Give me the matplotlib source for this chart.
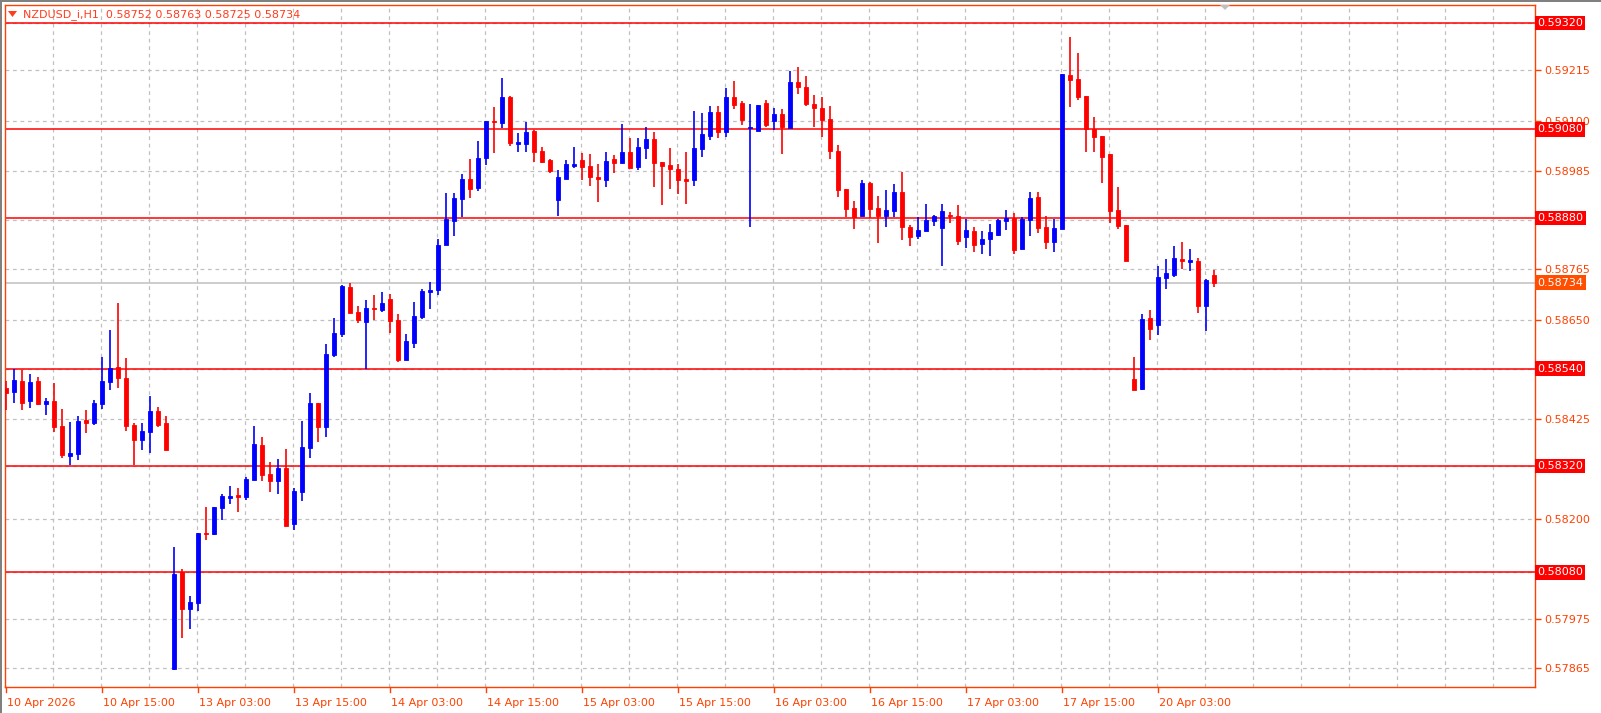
import matplotlib
matplotlib.use("Agg")
import matplotlib.pyplot as plt
import matplotlib.transforms as mtransforms
from matplotlib.patches import Rectangle, Polygon

opens = [0.58496,0.58487,0.58512,0.58467,0.58512,0.58460,0.58467,0.58410,0.58342,0.58347,
0.58424,0.58417,0.58460,0.58510,0.58543,0.58519,0.58413,0.58379,0.58397,0.58444,
0.58417,0.57862,0.58081,0.57997,0.58011,0.58169,0.58166,0.58225,0.58248,0.58254,
0.58250,0.58288,0.58367,0.58302,0.58286,0.58315,0.58189,0.58261,0.58360,0.58462,
0.58408,0.58571,0.58618,0.58724,0.58667,0.58645,0.58677,0.58672,0.58697,0.58649,
0.58559,0.58597,0.58656,0.58713,0.58717,0.58819,0.58873,0.58922,0.58968,0.58947,
0.59015,0.59099,0.59094,0.59153,0.59047,0.59047,0.59076,0.59031,0.59011,0.58920,
0.58968,0.58997,0.59011,0.58997,0.58972,0.58965,0.59013,0.59004,0.59029,0.58995,
0.59038,0.59058,0.59006,0.58999,0.58990,0.58968,0.58965,0.59035,0.59065,0.59119,
0.59074,0.59153,0.59139,0.59084,0.59076,0.59139,0.59099,0.59114,0.59083,0.59187,
0.59175,0.59137,0.59128,0.59103,0.59031,0.58945,0.58902,0.58884,0.58959,0.58902,
0.58884,0.58895,0.58938,0.58859,0.58839,0.58850,0.58873,0.58857,0.58887,0.58884,
0.58837,0.58850,0.58821,0.58832,0.58841,0.58873,0.58880,0.58810,0.58875,0.58927,
0.58859,0.58825,0.58855,0.59202,0.59193,0.59155,0.59080,0.59065,0.59024,0.58898,
0.58864,0.58516,0.58494,0.58654,0.58638,0.58744,0.58751,0.58787,0.58780,0.58783,
0.58681,0.58752]
highs = [0.58512,0.58539,0.58537,0.58528,0.58521,0.58473,0.58507,0.58449,0.58419,0.58433,
0.58446,0.58469,0.58566,0.58627,0.58688,0.58564,0.58417,0.58417,0.58478,0.58453,
0.58433,0.58137,0.58087,0.58027,0.58169,0.58227,0.58227,0.58257,0.58275,0.58270,
0.58295,0.58410,0.58386,0.58329,0.58336,0.58358,0.58270,0.58422,0.58485,0.58462,
0.58595,0.58654,0.58728,0.58733,0.58681,0.58695,0.58706,0.58713,0.58708,0.58663,
0.58618,0.58690,0.58719,0.58735,0.58832,0.58936,0.58936,0.58979,0.59013,0.59053,
0.59099,0.59130,0.59196,0.59155,0.59071,0.59096,0.59078,0.59040,0.59013,0.58988,
0.59011,0.59040,0.59026,0.59024,0.59002,0.59029,0.59022,0.59092,0.59060,0.59060,
0.59085,0.59074,0.59006,0.59038,0.59002,0.59029,0.59121,0.59117,0.59132,0.59132,
0.59173,0.59189,0.59144,0.59137,0.59135,0.59146,0.59128,0.59126,0.59211,0.59220,
0.59200,0.59157,0.59153,0.59132,0.59044,0.58945,0.58918,0.58965,0.58961,0.58929,
0.58943,0.58956,0.58983,0.58864,0.58882,0.58911,0.58887,0.58911,0.58893,0.58909,
0.58877,0.58859,0.58850,0.58866,0.58877,0.58898,0.58891,0.58882,0.58938,0.58938,
0.58884,0.58877,0.59204,0.59288,0.59252,0.59155,0.59108,0.59065,0.59024,0.58950,
0.58864,0.58566,0.58663,0.58672,0.58771,0.58787,0.58817,0.58826,0.58810,0.58789,
0.58742,0.58763]
lows = [0.58446,0.58462,0.58446,0.58451,0.58458,0.58435,0.58397,0.58338,0.58322,0.58333,
0.58394,0.58413,0.58449,0.58491,0.58496,0.58399,0.58322,0.58356,0.58349,0.58408,
0.58356,0.57859,0.57932,0.57952,0.57993,0.58153,0.58164,0.58198,0.58234,0.58216,
0.58243,0.58288,0.58286,0.58261,0.58257,0.58184,0.58175,0.58241,0.58338,0.58374,
0.58386,0.58566,0.58611,0.58665,0.58643,0.58540,0.58649,0.58668,0.58620,0.58555,
0.58559,0.58586,0.58652,0.58674,0.58706,0.58819,0.58839,0.58882,0.58925,0.58941,
0.58999,0.59026,0.59083,0.59042,0.59029,0.59029,0.59006,0.59004,0.58981,0.58884,
0.58968,0.58992,0.58965,0.58952,0.58916,0.58950,0.58981,0.59004,0.58992,0.58988,
0.59013,0.58950,0.58909,0.58945,0.58934,0.58911,0.58952,0.59017,0.59056,0.59060,
0.59062,0.59126,0.59090,0.58859,0.59076,0.59085,0.59078,0.59024,0.59083,0.59160,
0.59132,0.59085,0.59062,0.59013,0.58927,0.58882,0.58855,0.58884,0.58880,0.58823,
0.58859,0.58882,0.58830,0.58816,0.58832,0.58850,0.58862,0.58771,0.58868,0.58819,
0.58812,0.58803,0.58799,0.58794,0.58839,0.58853,0.58799,0.58810,0.58839,0.58846,
0.58810,0.58803,0.58855,0.59130,0.59146,0.59029,0.59029,0.58959,0.58868,0.58855,
0.58783,0.58491,0.58491,0.58604,0.58616,0.58719,0.58747,0.58765,0.58760,0.58665,
0.58625,0.58725]
closes = [0.58485,0.58514,0.58462,0.58510,0.58460,0.58467,0.58408,0.58345,0.58349,0.58422,
0.58417,0.58462,0.58512,0.58541,0.58519,0.58410,0.58379,0.58399,0.58444,0.58413,
0.58356,0.58076,0.57997,0.58013,0.58169,0.58166,0.58227,0.58252,0.58252,0.58250,
0.58291,0.58370,0.58300,0.58286,0.58315,0.58184,0.58263,0.58363,0.58462,0.58408,
0.58573,0.58620,0.58726,0.58665,0.58649,0.58677,0.58674,0.58688,0.58647,0.58559,
0.58602,0.58658,0.58715,0.58717,0.58819,0.58877,0.58925,0.58968,0.58945,0.59015,
0.59099,0.59096,0.59153,0.59049,0.59051,0.59074,0.59029,0.59006,0.58986,0.58972,
0.59002,0.59002,0.58995,0.58972,0.58968,0.59008,0.59004,0.59029,0.58992,0.59040,
0.59058,0.59004,0.58997,0.58990,0.58965,0.58963,0.59038,0.59069,0.59119,0.59074,
0.59153,0.59135,0.59101,0.59085,0.59135,0.59090,0.59114,0.59085,0.59187,0.59175,
0.59137,0.59128,0.59101,0.59031,0.58943,0.58900,0.58882,0.58959,0.58900,0.58884,
0.58898,0.58938,0.58859,0.58837,0.58853,0.58875,0.58884,0.58895,0.58884,0.58828,
0.58853,0.58819,0.58832,0.58848,0.58875,0.58880,0.58807,0.58877,0.58925,0.58857,
0.58825,0.58857,0.59204,0.59191,0.59153,0.59080,0.59062,0.59017,0.58895,0.58862,
0.58783,0.58491,0.58652,0.58629,0.58747,0.58756,0.58789,0.58783,0.58785,0.58681,
0.58740,0.58734]

time_labels = ["10 Apr 2026", "10 Apr 15:00", "13 Apr 03:00", "13 Apr 15:00", "14 Apr 03:00",
               "14 Apr 15:00", "15 Apr 03:00", "15 Apr 15:00", "16 Apr 03:00", "16 Apr 15:00",
               "17 Apr 03:00", "17 Apr 15:00", "20 Apr 03:00"]
time_label_idx = [0, 12, 24, 36, 48, 60, 72, 84, 96, 108, 120, 132, 144]
price_ticks = [0.59320, 0.59215, 0.59100, 0.58985, 0.58875, 0.58765, 0.58650, 0.58540,
               0.58425, 0.58320, 0.58200, 0.58080, 0.57975, 0.57865]
price_tick_labels = ["", "0.59215", "0.59100", "0.58985", "", "0.58765", "0.58650", "",
                     "0.58425", "", "0.58200", "", "0.57975", "0.57865"]
level_lines = [0.59320, 0.59080, 0.58880, 0.58540, 0.58320, 0.58080]
level_labels = ["0.59320", "0.59080", "0.58880", "0.58540", "0.58320", "0.58080"]
last_price = 0.58734
title = "NZDUSD_i,H1  0.58752 0.58763 0.58725 0.58734"

W, H = 1601, 713
fig = plt.figure(figsize=(W/100, H/100), dpi=100)
fig.patch.set_facecolor("white")
L, R, T, B = 5, 1535, 4.5, 687
ax = fig.add_axes([L/W, (H-B)/H, (R-L)/W, (B-T)/H])
AXC = "#FF4000"
for s in ax.spines.values():
    s.set_color(AXC); s.set_linewidth(1)

n = len(opens)
ax.set_xlim(-0.125, 191.125)
ax.set_ylim(0.57821, 0.59362)

grid_kw = dict(color="#C0C0C0", lw=0.9, ls=(0, (3, 3)), zorder=0)
for gx in range(6, 192, 6):
    ax.axvline(gx - 0.1, **grid_kw)
for p in price_ticks:
    ax.axhline(p, **grid_kw)

for lv in level_lines:
    ax.axhline(lv, color="#FF0000", lw=1.1, zorder=1)
ax.axhline(last_price, color="#C0C0C0", lw=1.1, zorder=1)

bw = 0.62
for i in range(n):
    o, h, l, c = opens[i], highs[i], lows[i], closes[i]
    col = "#0000FF" if c > o else "#FF0000"
    ax.vlines(i, l, h, color=col, lw=1.2, zorder=3)
    bot, top = min(o, c), max(o, c)
    hgt = max(top - bot, 0.000012)
    ax.add_patch(Rectangle((i - bw/2, bot), bw, hgt, fc=col, ec=col, lw=0.6, zorder=4))

ax.set_xticks([])
ax.yaxis.tick_right()
ax.set_yticks(price_ticks)
ax.set_yticklabels(price_tick_labels)
ax.tick_params(axis="y", colors=AXC, labelcolor=AXC, length=4, width=1, labelsize=8, pad=3)

trans = mtransforms.blended_transform_factory(ax.transAxes, ax.transData)
for lv, lab in zip(level_lines, level_labels):
    ax.text(1.0015, lv, lab, transform=trans, color="white", fontsize=8, va="center", ha="left",
            bbox=dict(boxstyle="square,pad=0.2", fc="#FF0000", ec="none"), zorder=10, clip_on=False)
ax.text(1.0015, last_price, f"{last_price:.5f}", transform=trans, color="white", fontsize=8,
        va="center", ha="left", bbox=dict(boxstyle="square,pad=0.2", fc="#FF4E00", ec="none"),
        zorder=10, clip_on=False)

transx = mtransforms.blended_transform_factory(ax.transData, ax.transAxes)
for idx, lab in zip(time_label_idx, time_labels):
    ax.plot([idx, idx], [0, -0.008], color=AXC, lw=1, transform=transx, clip_on=False)
    ax.text(idx + 0.1, -0.016, lab, transform=transx, color=AXC, fontsize=8, ha="left", va="top",
            clip_on=False)

# title
fig.text(23/W, 1 - 15/H, title, color="#FF3C1E", fontsize=8, va="center", ha="left")
fig.add_artist(Polygon([[8/W, 1-11/H], [17/W, 1-11/H], [12.5/W, 1-17/H]], closed=True,
                       fc="#FF3C1E", ec="none", transform=fig.transFigure))
# small shift marker
fig.add_artist(Polygon([[1220/W, 1-5/H], [1230/W, 1-5/H], [1225/W, 1-10/H]], closed=True,
                       fc="#C0C0C0", ec="none", transform=fig.transFigure))
# window borders
fig.add_artist(Rectangle((0, 0), 2/W, 1, fc="#808080", ec="none", transform=fig.transFigure))
fig.add_artist(Rectangle((0, 1-1.5/H), 1, 1.5/H, fc="#808080", ec="none", transform=fig.transFigure))

fig.savefig("out.png", dpi=100, facecolor="white")
